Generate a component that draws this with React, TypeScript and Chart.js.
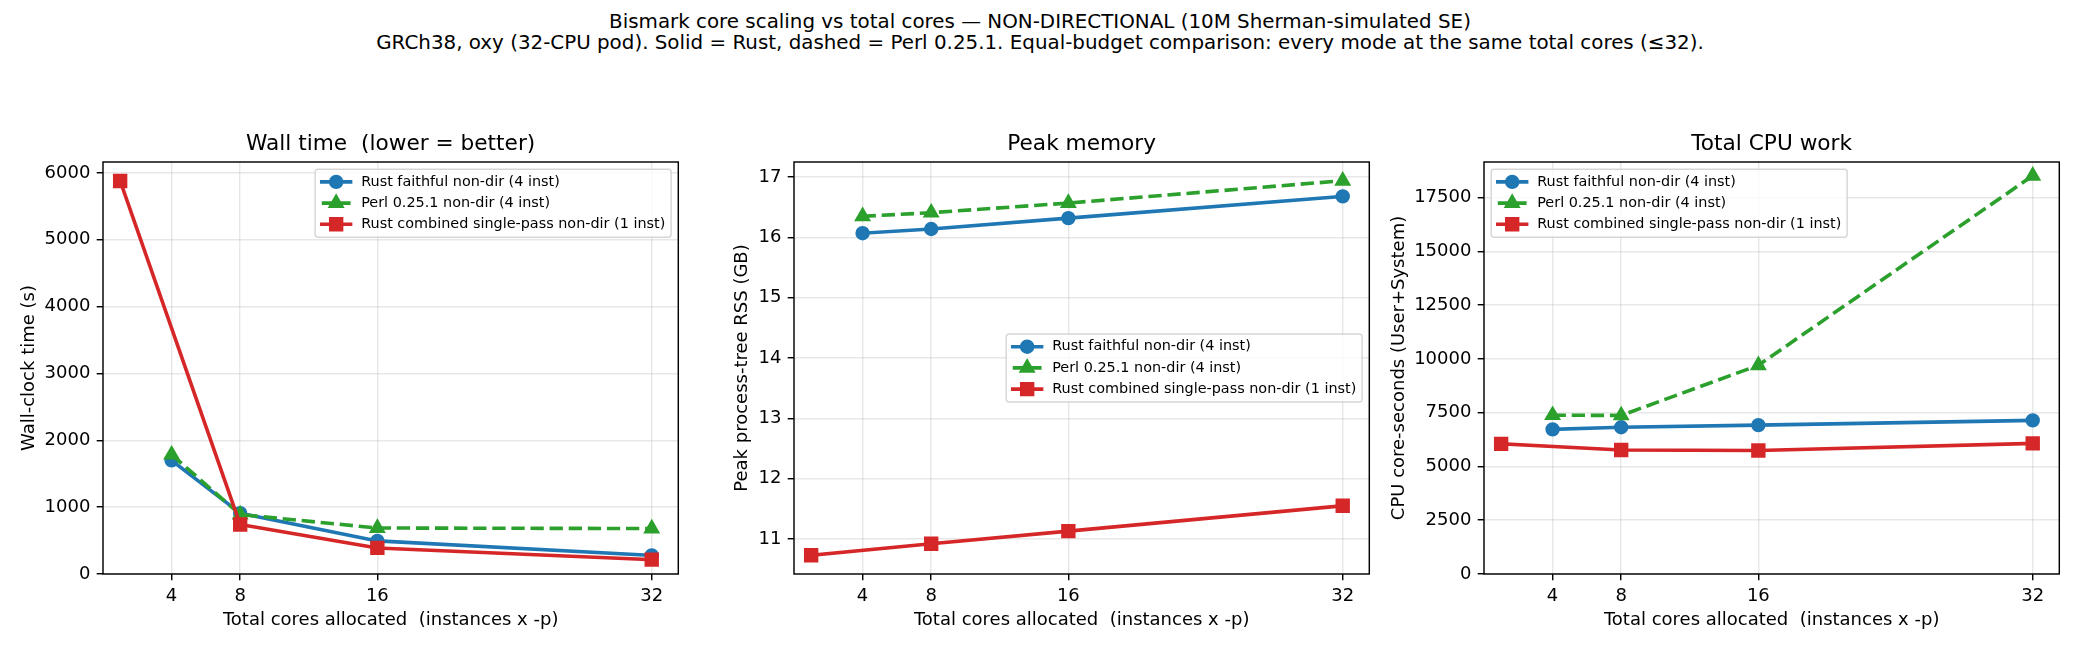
import React, { useEffect, useRef } from "react";
import { Chart, registerables } from "chart.js";

Chart.register(...registerables);

// ---------------- data ----------------
const FIG_TITLE_1 =
  "Bismark core scaling vs total cores \u2014 NON-DIRECTIONAL (10M Sherman-simulated SE)";
const FIG_TITLE_2 =
  "GRCh38, oxy (32-CPU pod). Solid = Rust, dashed = Perl 0.25.1. Equal-budget comparison: every mode at the same total cores (\u226432).";

const X_LABEL = "Total cores allocated  (instances x -p)";

const coresMulti = [4, 8, 16, 32];
const coresSingle = [1, 8, 16, 32];
const xTicks = [4, 8, 16, 32];

const seriesLabels = [
  "Rust faithful non-dir (4 inst)",
  "Perl 0.25.1 non-dir (4 inst)",
  "Rust combined single-pass non-dir (1 inst)",
];

const wallRustFaithful = [1700, 910, 495, 278];
const wallPerl = [1785, 890, 688, 680];
const wallRustCombined = [5880, 740, 390, 215];

const memRustFaithful = [16.07, 16.14, 16.32, 16.68];
const memPerl = [16.35, 16.41, 16.57, 16.94];
const memRustCombined = [10.73, 10.92, 11.13, 11.55];

const cpuRustFaithful = [6720, 6820, 6920, 7140];
const cpuPerl = [7380, 7370, 9700, 18510];
const cpuRustCombined = [6050, 5760, 5740, 6070];

const wallTicks = [0, 1000, 2000, 3000, 4000, 5000, 6000];
const memTicks = [11, 12, 13, 14, 15, 16, 17];
const cpuTicks = [0, 2500, 5000, 7500, 10000, 12500, 15000, 17500];

// ---------------- styling ----------------
const FONT = '"DejaVu Sans", "Liberation Sans", sans-serif';
const BLUE = "#1f77b4";
const GREEN = "#2ca02c";
const RED = "#d62728";
const GRID = "rgba(176,176,176,0.3)";

const CANVAS_W = 689;
const CANVAS_H = 530;
const CANVAS_TOP = 120;
const Y_AXIS_W = 103;
const X_AXIS_H = 76;
const TITLE_SPACE = 42;

type LegendLoc = "upper right" | "center right" | "upper left";

type Panel = {
  title: string;
  ylabel: string;
  faithful: number[];
  perl: number[];
  combined: number[];
  yTicks: number[];
  zeroFloor: boolean;
  legendLoc: LegendLoc;
  canvasLeft: number;
  ylabelCenter: number;
};

const PANELS: Panel[] = [
  {
    title: "Wall time  (lower = better)",
    ylabel: "Wall-clock time (s)",
    faithful: wallRustFaithful,
    perl: wallPerl,
    combined: wallRustCombined,
    yTicks: wallTicks,
    zeroFloor: true,
    legendLoc: "upper right",
    canvasLeft: 0,
    ylabelCenter: 29,
  },
  {
    title: "Peak memory",
    ylabel: "Peak process-tree RSS (GB)",
    faithful: memRustFaithful,
    perl: memPerl,
    combined: memRustCombined,
    yTicks: memTicks,
    zeroFloor: false,
    legendLoc: "center right",
    canvasLeft: 691,
    ylabelCenter: 51,
  },
  {
    title: "Total CPU work",
    ylabel: "CPU core-seconds (User+System)",
    faithful: cpuRustFaithful,
    perl: cpuPerl,
    combined: cpuRustCombined,
    yTicks: cpuTicks,
    zeroFloor: true,
    legendLoc: "upper left",
    canvasLeft: 1381,
    ylabelCenter: 18,
  },
];

function autoLimits(values: number[], floorZero: boolean) {
  const lo = Math.min(...values);
  const hi = Math.max(...values);
  const m = 0.05 * (hi - lo);
  return { min: floorZero ? 0 : lo - m, max: hi + m };
}

const allX = [...coresMulti, ...coresSingle];
const xLim = { min: 0, max: autoLimits(allX, false).max };

type Series = {
  label: string;
  color: string;
  style: "circle" | "triangle" | "rect";
  radius: number;
  dash: number[];
};

const SERIES: Series[] = [
  { label: seriesLabels[0], color: BLUE, style: "circle", radius: 6.3, dash: [] },
  { label: seriesLabels[1], color: GREEN, style: "triangle", radius: 8, dash: [13.3, 5.8] },
  { label: seriesLabels[2], color: RED, style: "rect", radius: 8.9, dash: [] },
];

function drawMarker(ctx: CanvasRenderingContext2D, s: Series, x: number, y: number) {
  ctx.save();
  ctx.fillStyle = s.color;
  ctx.strokeStyle = s.color;
  ctx.lineWidth = 1.8;
  ctx.setLineDash([]);
  ctx.beginPath();
  const r = s.radius;
  if (s.style === "circle") {
    ctx.arc(x, y, r, 0, Math.PI * 2);
  } else if (s.style === "triangle") {
    ctx.moveTo(x, y - r);
    ctx.lineTo(x + Math.sin((2 * Math.PI) / 3) * r, y + r / 2);
    ctx.lineTo(x - Math.sin((2 * Math.PI) / 3) * r, y + r / 2);
    ctx.closePath();
  } else {
    const h = r * Math.SQRT1_2;
    ctx.rect(x - h, y - h, 2 * h, 2 * h);
  }
  ctx.fill();
  ctx.stroke();
  ctx.restore();
}

function makeFramePlugin(loc: LegendLoc, title: string) {
  return {
    id: "frameAndLegend",
    afterDraw(chart: any) {
      const ctx: CanvasRenderingContext2D = chart.ctx;
      const a = chart.chartArea;
      // axes frame
      ctx.save();
      ctx.strokeStyle = "#000";
      ctx.lineWidth = 1.44;
      ctx.setLineDash([]);
      ctx.strokeRect(a.left, a.top, a.right - a.left, a.bottom - a.top);
      ctx.restore();

      // axes title, centred over the plot area
      ctx.save();
      ctx.font = `21.67px ${FONT}`;
      ctx.fillStyle = "#000";
      ctx.textAlign = "center";
      ctx.textBaseline = "middle";
      ctx.fillText(title, (a.left + a.right) / 2, 24.6);
      ctx.restore();

      // legend
      const fs = 14.4;
      ctx.save();
      ctx.font = `${fs}px ${FONT}`;
      const textW = Math.max(...SERIES.map((s) => ctx.measureText(s.label).width));
      const w = 46 + textW + 5.8;
      const h = 68;
      const pad = 7.2;
      let lx = a.right - pad - w;
      let ly = a.top + pad;
      if (loc === "upper left") lx = a.left + pad;
      if (loc === "center right") ly = (a.top + a.bottom) / 2 - h / 2;

      ctx.beginPath();
      const rr = 2.9;
      ctx.moveTo(lx + rr, ly);
      ctx.lineTo(lx + w - rr, ly);
      ctx.arcTo(lx + w, ly, lx + w, ly + rr, rr);
      ctx.lineTo(lx + w, ly + h - rr);
      ctx.arcTo(lx + w, ly + h, lx + w - rr, ly + h, rr);
      ctx.lineTo(lx + rr, ly + h);
      ctx.arcTo(lx, ly + h, lx, ly + h - rr, rr);
      ctx.lineTo(lx, ly + rr);
      ctx.arcTo(lx, ly, lx + rr, ly, rr);
      ctx.closePath();
      ctx.fillStyle = "rgba(255,255,255,0.8)";
      ctx.fill();
      ctx.strokeStyle = "rgba(204,204,204,0.8)";
      ctx.lineWidth = 1.44;
      ctx.stroke();

      SERIES.forEach((s, i) => {
        const cy = ly + 12.7 + 21.2 * i;
        const x0 = lx + 6.6;
        const x1 = x0 + 28.8;
        ctx.save();
        ctx.strokeStyle = s.color;
        ctx.lineWidth = 3.6;
        ctx.setLineDash(s.dash);
        ctx.lineCap = s.dash.length ? "butt" : "square";
        ctx.beginPath();
        ctx.moveTo(x0, cy);
        ctx.lineTo(x1, cy);
        ctx.stroke();
        ctx.restore();
        drawMarker(ctx, s, (x0 + x1) / 2, cy);
        ctx.fillStyle = "#000";
        ctx.textBaseline = "middle";
        ctx.textAlign = "left";
        ctx.fillText(s.label, lx + 46, cy);
      });
      ctx.restore();
    },
  };
}

function buildConfig(p: Panel): any {
  const ys = [p.faithful, p.perl, p.combined];
  const xs = [coresMulti, coresMulti, coresSingle];
  const yLim = autoLimits([...p.faithful, ...p.perl, ...p.combined], p.zeroFloor);
  const tickFont = { family: FONT, size: 18 };

  const datasets = SERIES.map((s, i) => ({
    label: s.label,
    data: xs[i].map((x, j) => ({ x, y: ys[i][j] })),
    borderColor: s.color,
    backgroundColor: s.color,
    borderWidth: 3.6,
    borderDash: s.dash,
    borderJoinStyle: "round",
    borderCapStyle: s.dash.length ? "butt" : "square",
    pointStyle: s.style,
    pointRadius: s.radius,
    pointHoverRadius: s.radius,
    pointBorderWidth: 1.8,
    pointBackgroundColor: s.color,
    pointBorderColor: s.color,
    tension: 0,
    fill: false,
    order: 3 - i,
  }));

  return {
    type: "line",
    data: { datasets },
    options: {
      responsive: false,
      animation: false,
      devicePixelRatio: 1,
      events: [],
      layout: { padding: { left: 0, right: 10, top: TITLE_SPACE, bottom: 0 } },
      plugins: {
        legend: { display: false },
        tooltip: { enabled: false },
        title: { display: false },
      },
      scales: {
        x: {
          type: "linear",
          min: xLim.min,
          max: xLim.max,
          afterBuildTicks: (s: any) => {
            s.ticks = xTicks.map((v) => ({ value: v }));
          },
          afterFit: (s: any) => {
            s.height = X_AXIS_H;
          },
          ticks: {
            color: "#000",
            font: tickFont,
            padding: 5,
            autoSkip: false,
            maxRotation: 0,
            callback: (v: any) => String(v),
          },
          grid: {
            color: GRID,
            lineWidth: 1.44,
            drawTicks: true,
            tickColor: "#000",
            tickWidth: 1.44,
            tickLength: 6.3,
          },
          border: { display: false },
          title: {
            display: true,
            text: X_LABEL,
            color: "#000",
            font: tickFont,
            padding: { top: 0, bottom: 18.5 },
          },
        },
        y: {
          type: "linear",
          min: yLim.min,
          max: yLim.max,
          afterBuildTicks: (s: any) => {
            s.ticks = p.yTicks.map((v) => ({ value: v }));
          },
          afterFit: (s: any) => {
            s.width = Y_AXIS_W;
          },
          ticks: {
            color: "#000",
            font: tickFont,
            padding: 6.3,
            autoSkip: false,
            callback: (v: any) => String(v),
          },
          grid: {
            color: GRID,
            lineWidth: 1.44,
            drawTicks: true,
            tickColor: "#000",
            tickWidth: 1.44,
            tickLength: 6.3,
          },
          border: { display: false },
          title: {
            display: true,
            text: p.ylabel,
            color: "#000",
            font: tickFont,
            padding: { top: p.ylabelCenter - 10.8, bottom: 0 },
          },
        },
      },
    },
    plugins: [makeFramePlugin(p.legendLoc, p.title)],
  };
}

export default function App() {
  const r0 = useRef<HTMLCanvasElement>(null);
  const r1 = useRef<HTMLCanvasElement>(null);
  const r2 = useRef<HTMLCanvasElement>(null);
  const refs = [r0, r1, r2];

  useEffect(() => {
    const charts = PANELS.map((p, i) => new Chart(refs[i].current as HTMLCanvasElement, buildConfig(p)));
    return () => charts.forEach((c) => c.destroy());
  }, []);

  return (
    <div
      style={{
        position: "absolute",
        left: 0,
        top: 0,
        width: 2080,
        height: 650,
        background: "#fff",
        overflow: "hidden",
        fontFamily: FONT,
      }}
    >
      <div
        style={{
          position: "absolute",
          left: 0,
          top: 12,
          width: 2080,
          textAlign: "center",
          fontSize: 19.86,
          lineHeight: "20.5px",
          color: "#000",
          whiteSpace: "nowrap",
        }}
      >
        <div>{FIG_TITLE_1}</div>
        <div>{FIG_TITLE_2}</div>
      </div>
      {PANELS.map((p, i) => (
        <canvas
          key={i}
          ref={refs[i]}
          width={CANVAS_W}
          height={CANVAS_H}
          style={{
            position: "absolute",
            left: p.canvasLeft,
            top: CANVAS_TOP,
            width: CANVAS_W,
            height: CANVAS_H,
          }}
        />
      ))}
    </div>
  );
}
